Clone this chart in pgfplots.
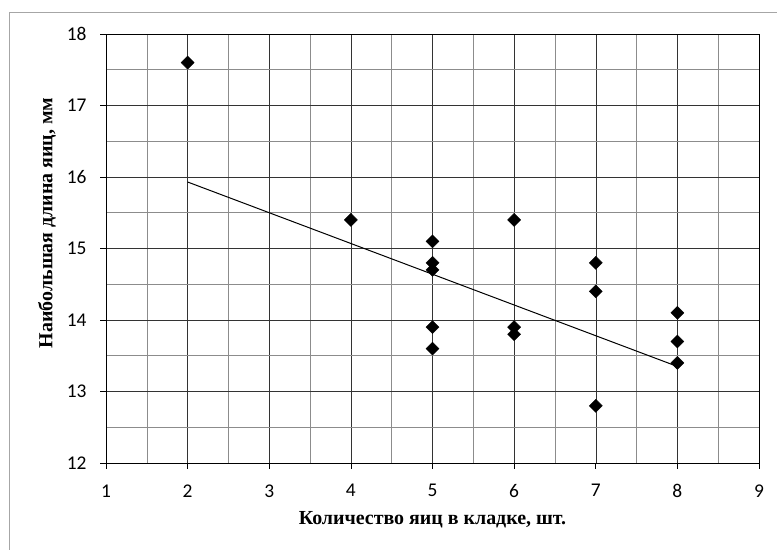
\documentclass[border=0pt]{standalone}
\usepackage{fontspec}
\setmainfont{Liberation Serif}
\newfontfamily\ticks{Carlito}
\usepackage{pgfplots}
\pgfplotsset{compat=1.18}

\begin{document}
\begin{tikzpicture}[x=1bp,y=1bp]
\path[use as bounding box] (0,0) rectangle (777,550);
% frame of the chart area (only top and left edges are visible)
\draw[gray!70, line width=0.8bp] (9,0) -- (9,538) -- (777,538);

\begin{axis}[
    at={(106bp,87bp)}, anchor=south west,
    scale only axis,
    width=653bp, height=429bp,
    xmin=1, xmax=9,
    ymin=12, ymax=18,
    xtick={1,...,9},
    ytick={12,...,18},
    minor xtick={1.5,2.5,...,8.5},
    minor ytick={12.5,13.5,...,17.5},
    grid=both,
    major grid style={black!80, line width=0.5bp},
    minor grid style={black!45, line width=0.5bp},
    axis line style={black, line width=0.6bp},
    tick style={black, line width=0.6bp},
    major tick length=6bp,
    minor tick length=0pt,
    tick align=outside,
    xtick pos=bottom, ytick pos=left,
    /pgf/number format/assume math mode=true,
    tick label style={font=\ticks\fontsize{19.5}{22}\selectfont},
    xticklabel style={yshift=-12bp},
    yticklabel style={xshift=-10bp},
    xlabel={Количество яиц в кладке, шт.},
    ylabel={Наибольшая длина яиц, мм},
    label style={font=\bfseries\fontsize{20}{23}\selectfont},
    xlabel style={yshift=-7bp},
    ylabel style={at={(ticklabel cs:0.56)}, yshift=4bp},
]
\addplot[only marks, mark=square*, mark size=4.6bp,
         mark options={rotate=45, fill=black, draw=black}]
coordinates {
    (2,17.6)
    (4,15.4)
    (5,15.1) (5,14.8) (5,14.7) (5,13.9) (5,13.6)
    (6,15.4) (6,13.9) (6,13.8)
    (7,14.8) (7,14.4) (7,12.8)
    (8,14.1) (8,13.7) (8,13.4)
};
% trend line
\addplot[black, line width=1bp] coordinates {(2,15.93) (8,13.35)};
\end{axis}
\end{tikzpicture}
\end{document}
